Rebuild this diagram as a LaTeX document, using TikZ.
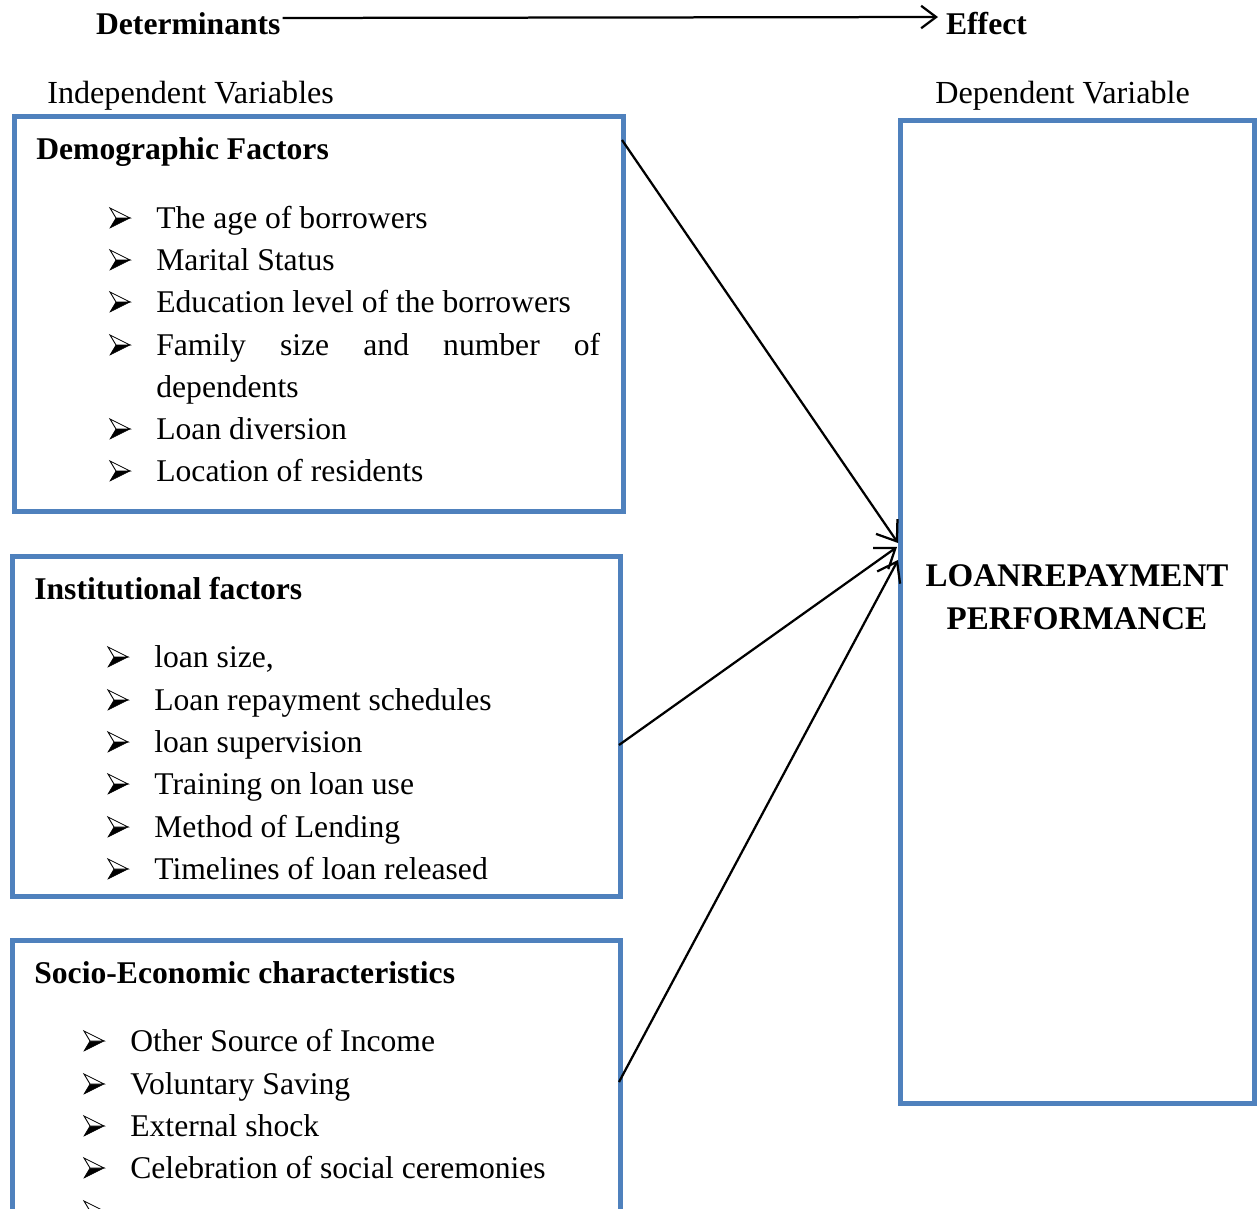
\documentclass[tikz,border=0pt]{standalone}
\usepackage{fontspec}
\setmainfont{Liberation Serif}
\usetikzlibrary{arrows.meta}
\definecolor{boxblue}{HTML}{4F81BD}
\begin{document}
\begin{tikzpicture}[x=0.02cm,y=-0.02cm,
  vbox/.style={draw=boxblue,line width=0.1cm,inner sep=0pt,rectangle},
  txt/.style={anchor=west,inner sep=0pt,yshift=-0.14cm,font=\fontsize{18}{20}\selectfont,text height=0.7em,text depth=0.25em},
  head/.style={txt,font=\fontsize{18}{20}\selectfont\bfseries},
  lab/.style={txt,font=\fontsize{18.3}{20}\selectfont},
  arrowbul/.pic={
    \filldraw[black,line width=0.3pt,line join=miter] (-4,0) -- (10,0) -- (-10,10) -- cycle;
    \filldraw[fill=white,draw=black,line width=0.5pt,line join=miter] (-10,-10) -- (10,0) -- (-4,0) -- cycle;
  },
  conn/.style={line width=0.045cm,-{Straight Barb[length=0.36cm,width=0.52cm,line width=0.045cm]}}]
\clip (0,0) rectangle (1259,1209);
\fill[white] (0,0) rectangle (1259,1209);

% top labels
\node[head,inner sep=1pt] (det) at (94,24) {Determinants};
\node[head,inner sep=1pt] (eff) at (944,24) {Effect};
\draw[line width=0.045cm,shorten >=0.12cm,-{Straight Barb[length=0.3cm,width=0.45cm,line width=0.045cm]}]
  ([yshift=0.26cm]det.east) -- ([yshift=0.28cm]eff.west);

\node[lab] (iv) at (47,93) {Independent Variables};
\node[lab] (dv) at (935,93) {Dependent Variable};

% boxes
\node[vbox,minimum width=12.18cm,minimum height=7.91cm] (b1) at (319,314.25) {};
\node[vbox,minimum width=12.17cm,minimum height=6.8cm] (b2) at (316.25,726.5) {};
\node[vbox,minimum width=12.17cm,minimum height=7.19cm] (b3) at (316.25,1120.25) {};
\node[vbox,minimum width=7.08cm,minimum height=19.67cm] (b4) at (1077.5,611.75) {};

% box 1
\node[head] (h1) at (36,149) {Demographic Factors};
\pic at (120,218) {arrowbul}; \node[txt] (t11) at (156,218) {The age of borrowers};
\pic at (120,260) {arrowbul}; \node[txt] (t12) at (156,260) {Marital Status};
\pic at (120,302) {arrowbul}; \node[txt] (t13) at (156,302) {Education level of the borrowers};
\pic at (120,345) {arrowbul}; \node[txt] (t14) at (156,345) {\makebox[8.88cm][s]{Family size and number of}};
\node[txt] (t14b) at (156,387) {dependents};
\pic at (120,429) {arrowbul}; \node[txt] (t15) at (156,429) {Loan diversion};
\pic at (120,471) {arrowbul}; \node[txt] (t16) at (156,471) {Location of residents};

% box 2
\node[head] (h2) at (34,589) {Institutional factors};
\pic at (118,657) {arrowbul}; \node[txt] (t21) at (154,657) {loan size,};
\pic at (118,700) {arrowbul}; \node[txt] (t22) at (154,700) {Loan repayment schedules};
\pic at (118,742) {arrowbul}; \node[txt] (t23) at (154,742) {loan supervision};
\pic at (118,784) {arrowbul}; \node[txt] (t24) at (154,784) {Training on loan use};
\pic at (118,827) {arrowbul}; \node[txt] (t25) at (154,827) {Method of Lending};
\pic at (118,869) {arrowbul}; \node[txt] (t26) at (154,869) {Timelines of loan released};

% box 3
\node[head] (h3) at (34,973) {Socio-Economic characteristics};
\pic at (94,1041) {arrowbul}; \node[txt] (t31) at (130,1041) {Other Source of Income};
\pic at (94,1084) {arrowbul}; \node[txt] (t32) at (130,1084) {Voluntary Saving};
\pic at (94,1126) {arrowbul}; \node[txt] (t33) at (130,1126) {External shock};
\pic at (94,1168) {arrowbul}; \node[txt] (t34) at (130,1168) {Celebration of social ceremonies};
\pic at (94,1211) {arrowbul};

% dependent variable
\node[align=center,inner sep=0pt,font=\fontsize{18.8}{24.4}\selectfont\bfseries] (dvt) at (1077,597.5) {LOANREPAYMENT\\PERFORMANCE};

% connectors
\coordinate (s1) at (622,140);
\coordinate (s2) at (619,745);
\coordinate (s3) at (619,1082);
\coordinate (e1) at (898,543);
\coordinate (e2) at (897,547);
\coordinate (e3) at (898,560);
\draw[conn] (s1) -- (e1);
\draw[conn] (s2) -- (e2);
\draw[conn] (s3) -- (e3);
\end{tikzpicture}
\end{document}
